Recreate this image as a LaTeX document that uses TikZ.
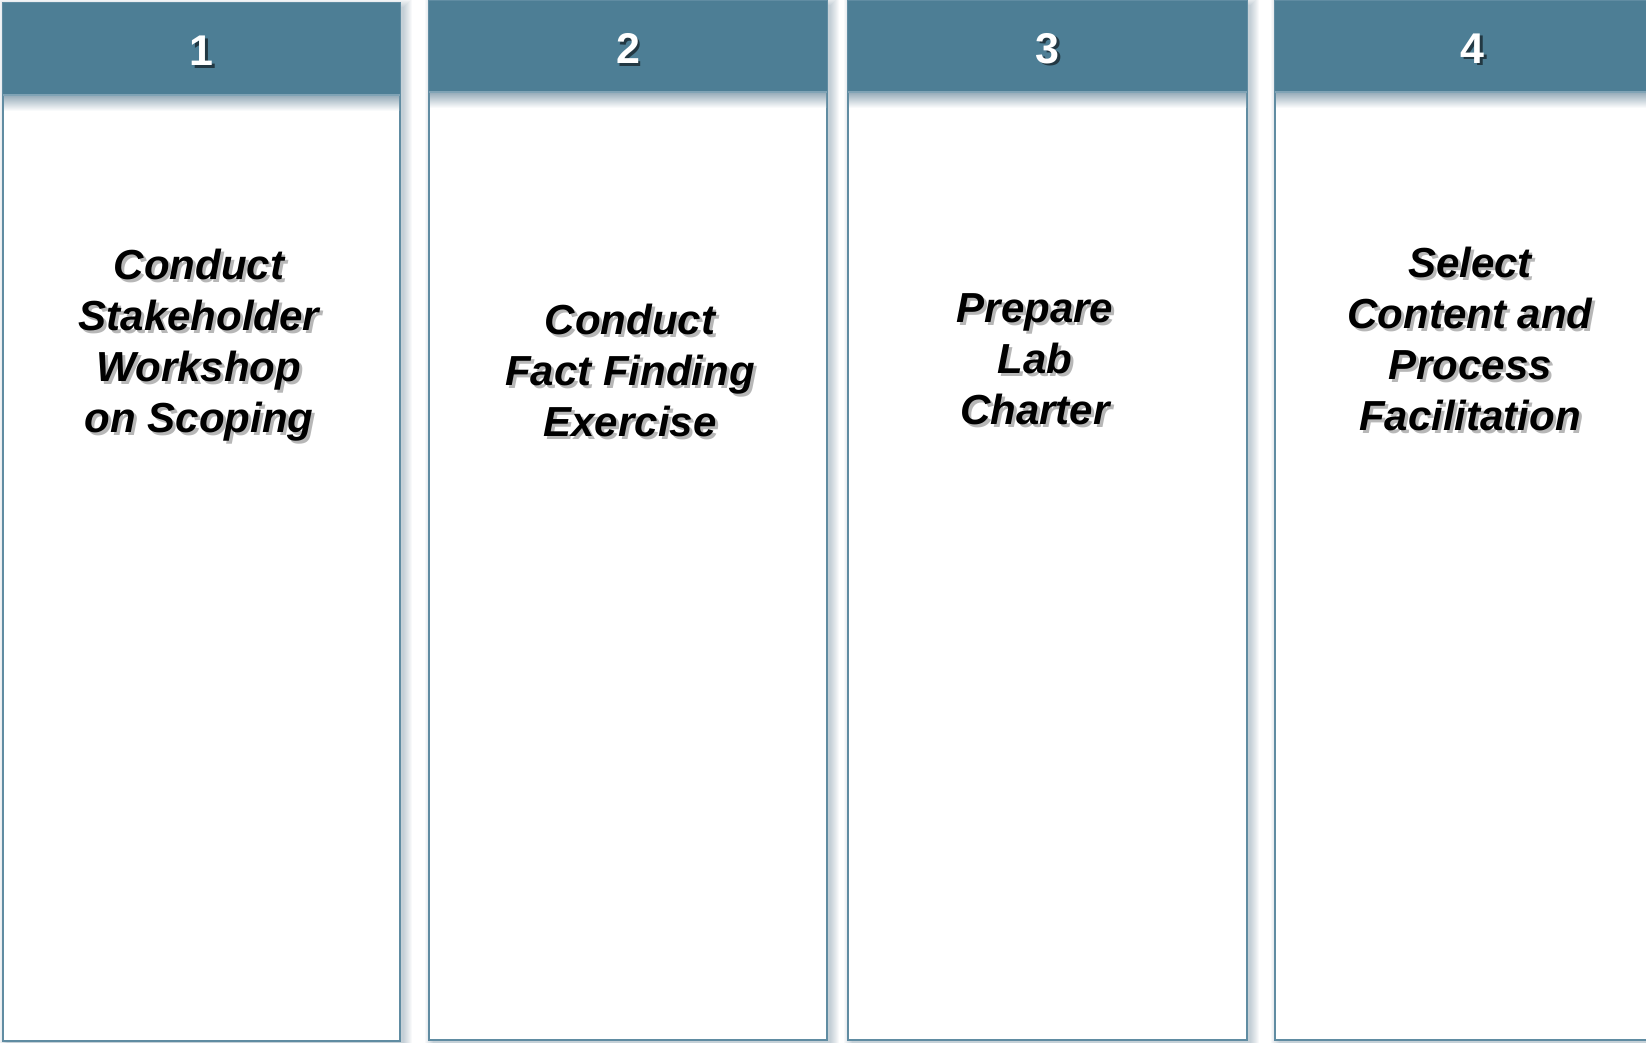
\documentclass[tikz,border=0pt]{standalone}
\usepackage{fontspec}
\setmainfont{Liberation Sans}
\definecolor{hdr}{RGB}{77,126,149}
\definecolor{edgeblue}{RGB}{96,140,162}
\definecolor{shadowblue}{RGB}{60,100,125}
\newcommand\stagecol[7]{%
  % soft shadow
  \foreach \i in {0,...,8}{%
    \fill[shadowblue, opacity=0.035] ({#2+4-8+\i},{#3+4-8+\i}) rectangle ({#4+4+8-\i},{#5+4+8-\i});
  }
  % body
  \fill[white] (#2,#3) rectangle (#4,#5);
  \draw[edgeblue, line width=1pt] (#2,#3) rectangle (#4,#5);
  % header shadow onto body
  \shade[top color=shadowblue!55, bottom color=white] ({#2+1},#6) rectangle ({#4-1},{#6+16});
  % header
  \fill[hdr] (#2,#3) rectangle (#4,#6);
  \draw[edgeblue!80!white, line width=0.6pt] (#2,#6) -- (#4,#6);
  % number
  \node[numshadow] (#1s) at ({(#2+#4)/2+2.5},{(#3+#6)/2+4.5}) {#7};
  \node[numtext] (#1) at ({(#2+#4)/2},{(#3+#6)/2+2}) {#7};
}
\begin{document}
\begin{tikzpicture}[x=0.5pt,y=-0.5pt,
  numtext/.style={text=white, font=\fontsize{21.5}{25}\selectfont\bfseries, inner sep=0pt},
  numshadow/.style={text=black, opacity=0.55, font=\fontsize{21.5}{25}\selectfont\bfseries, inner sep=0pt},
  stagetext/.style={text=black, align=center, inner sep=0pt, font=\fontsize{21}{25.5}\selectfont\bfseries\itshape},
  stageshadow/.style={text=black!35, align=center, inner sep=0pt, opacity=0.8, font=\fontsize{21}{25.5}\selectfont\bfseries\itshape}]
\useasboundingbox (0,0) rectangle (1646,1043);
\clip (0,0) rectangle (1646,1043);
\fill[white] (0,0) rectangle (1646,1043);

\stagecol{n1}{3}{3}{400}{1041}{95}{1}
\stagecol{n2}{429}{1}{827}{1040}{92}{2}
\stagecol{n3}{848}{1}{1247}{1040}{92}{3}
\stagecol{n4}{1275}{1}{1670}{1040}{92}{4}

\node[stageshadow] (t1s) at (202,348) {Conduct\\Stakeholder\\Workshop\\on Scoping};
\node[stagetext] (t1) at (199,345) {Conduct\\Stakeholder\\Workshop\\on Scoping};

\node[stageshadow] (t2s) at (633,373) {Conduct\\Fact Finding\\Exercise};
\node[stagetext] (t2) at (630,370) {Conduct\\Fact Finding\\Exercise};

\node[stageshadow] (t3s) at (1038,362) {Prepare\\Lab\\Charter};
\node[stagetext] (t3) at (1035,359) {Prepare\\Lab\\Charter};

\node[stageshadow] (t4s) at (1473,342) {Select\\Content and\\Process\\Facilitation};
\node[stagetext] (t4) at (1470,339) {Select\\Content and\\Process\\Facilitation};
\end{tikzpicture}
\end{document}
